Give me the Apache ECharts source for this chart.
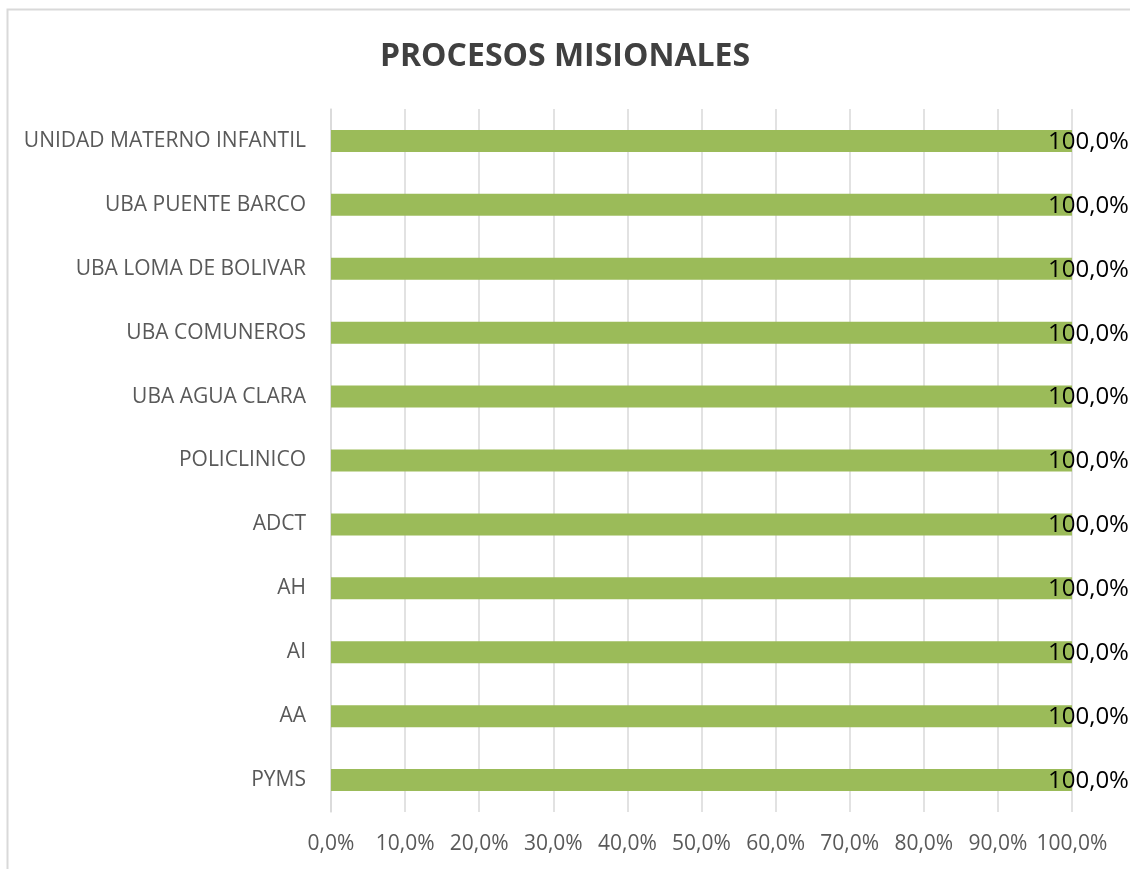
<!DOCTYPE html>
<html><head><meta charset="utf-8">
<script src="https://cdn.jsdelivr.net/npm/echarts@6/dist/echarts.min.js"></script>
<style>html,body{margin:0;padding:0;background:#fff}#c{width:1130px;height:869px}</style>
</head><body><div id="c"></div>
<script>
const categories = ['PYMS','AA','AI','AH','ADCT','POLICLINICO','UBA AGUA CLARA','UBA COMUNEROS','UBA LOMA DE BOLIVAR','UBA PUENTE BARCO','UNIDAD MATERNO INFANTIL'];
const values = [100,100,100,100,100,100,100,100,100,100,100];
const titleText = 'PROCESOS MISIONALES';
const fmt = v => v.toFixed(1).replace('.', ',') + '%';
const chart = echarts.init(document.getElementById('c'), null, {renderer:'canvas'});
chart.setOption({
  animation:false,
  backgroundColor:'#fff',
  graphic:[{type:'rect',shape:{x:7.5,y:9.5,width:1200,height:1000},style:{fill:'none',stroke:'#d9d9d9',lineWidth:2},silent:true,z:-1}],
  title:{text:titleText,left:'center',top:36,textStyle:{fontFamily:'Open Sans',fontWeight:'bold',fontSize:32,color:'#404040'}},
  grid:{left:331,right:58,top:109,bottom:57},
  xAxis:{type:'value',min:0,max:100,interval:10,
    axisLine:{show:false},axisTick:{show:false},
    splitLine:{show:true,lineStyle:{color:'#d9d9d9',width:1.5}},
    axisLabel:{formatter:v=>fmt(v),color:'#595959',fontFamily:'Open Sans',fontSize:21,margin:22}},
  yAxis:{type:'category',data:categories,
    axisLine:{show:true,lineStyle:{color:'#d9d9d9',width:1.5}},axisTick:{show:false},
    axisLabel:{color:'#595959',fontFamily:'Open Sans',fontSize:21,margin:25}},
  series:[{type:'bar',data:values,barWidth:22,itemStyle:{color:'#9bbb59'},
    label:{show:true,position:'right',distance:0,offset:[-24,1],formatter:p=>fmt(p.value),color:'#000',fontFamily:'Open Sans',fontSize:24}}]
});
</script></body></html>
